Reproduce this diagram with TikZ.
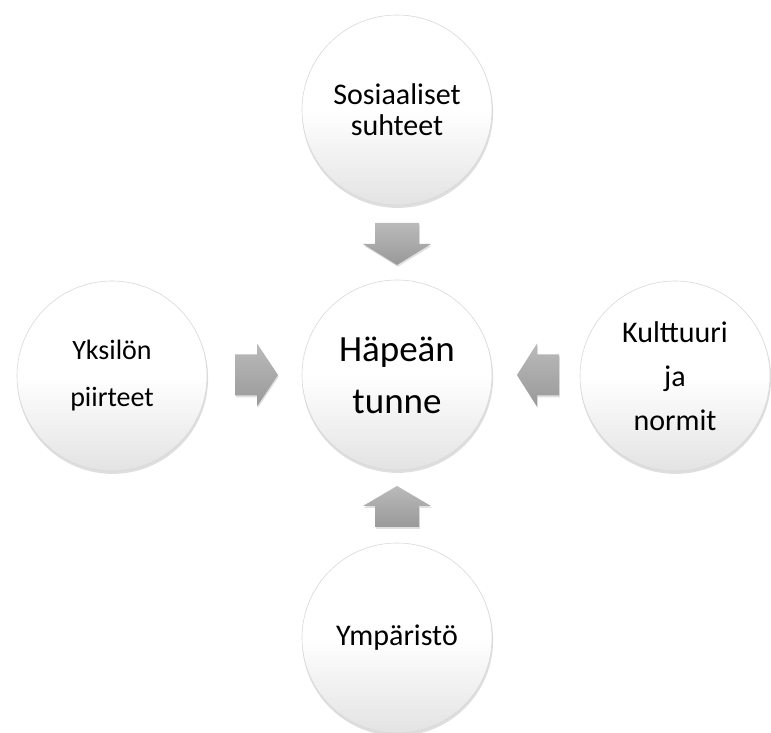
\documentclass[tikz,border=0pt]{standalone}
\usepackage{fontspec}
\setmainfont{Carlito}
\usetikzlibrary{calc}
\begin{document}
\begin{tikzpicture}[x=1pt,y=1pt,
  bubble/.style={circle, minimum size=190pt, inner sep=0pt, draw=black!15, line width=0.6pt,
    top color=white, bottom color=black!11, middle color=white, align=center},
  bubbleshadow/.style={fill=black, fill opacity=0.13},
  outertext/.style={font=\fontsize{30}{34}\selectfont},
  arrowfill/.style={top color=black!27, bottom color=black!40, draw=none},
  arrowshadow/.style={fill=black, fill opacity=0.12}]
\useasboundingbox (0,0) rectangle (771,733);
\fill[white] (0,0) rectangle (771,733);
% positions
\coordinate (pc) at (397,358);
\coordinate (pt) at (397,623);
\coordinate (pl) at (112,357);
\coordinate (pr) at (675,357);
\coordinate (pb) at (397,95);
% shadows of circles
\foreach \p in {pc,pt,pl,pr,pb}
  \fill[bubbleshadow] ($(\p)+(0.6,-2.4)$) circle (95.5);
% circles
\node[bubble, font=\fontsize{37}{52}\selectfont] (center) at (pc) {Häpeän\\tunne};
\node[bubble, outertext, font=\fontsize{30}{31}\selectfont] (top) at (pt) {Sosiaaliset\\suhteet};
\node[bubble, outertext, font=\fontsize{28}{47}\selectfont] (left) at (pl) {Yksilön\\piirteet};
\node[bubble, outertext, font=\fontsize{30}{44}\selectfont] (right) at (pr) {Kulttuuri\\ja\\normit};
\node[bubble, outertext] (bottom) at (pb) {Ympäristö};
% arrows
\coordinate (c) at (center.center);
\foreach \s/\sx/\sy in {arrowshadow/0.8/-1.8, arrowfill/0/0}{
% top arrow pointing down
\path[\s] ($(c)+(-22+\sx,152+\sy)$) -- ($(c)+(22+\sx,152+\sy)$) -- ($(c)+(22+\sx,131+\sy)$) -- ($(c)+(34+\sx,131+\sy)$)
  -- ($(c)+(0+\sx,110+\sy)$) -- ($(c)+(-34+\sx,131+\sy)$) -- ($(c)+(-22+\sx,131+\sy)$) -- cycle;
% bottom arrow pointing up
\path[\s] ($(c)+(-22+\sx,-152+\sy)$) -- ($(c)+(22+\sx,-152+\sy)$) -- ($(c)+(22+\sx,-131+\sy)$) -- ($(c)+(34+\sx,-131+\sy)$)
  -- ($(c)+(0+\sx,-111+\sy)$) -- ($(c)+(-34+\sx,-131+\sy)$) -- ($(c)+(-22+\sx,-131+\sy)$) -- cycle;
% left arrow pointing right
\path[\s] ($(c)+(-162+\sx,20.5+\sy)$) -- ($(c)+(-140+\sx,20.5+\sy)$) -- ($(c)+(-140+\sx,31.5+\sy)$) -- ($(c)+(-119+\sx,0+\sy)$)
  -- ($(c)+(-140+\sx,-31.5+\sy)$) -- ($(c)+(-140+\sx,-20.5+\sy)$) -- ($(c)+(-162+\sx,-20.5+\sy)$) -- cycle;
% right arrow pointing left
\path[\s] ($(c)+(162+\sx,20.5+\sy)$) -- ($(c)+(140+\sx,20.5+\sy)$) -- ($(c)+(140+\sx,31.5+\sy)$) -- ($(c)+(120+\sx,0+\sy)$)
  -- ($(c)+(140+\sx,-31.5+\sy)$) -- ($(c)+(140+\sx,-20.5+\sy)$) -- ($(c)+(162+\sx,-20.5+\sy)$) -- cycle;
}
\end{tikzpicture}
\end{document}
